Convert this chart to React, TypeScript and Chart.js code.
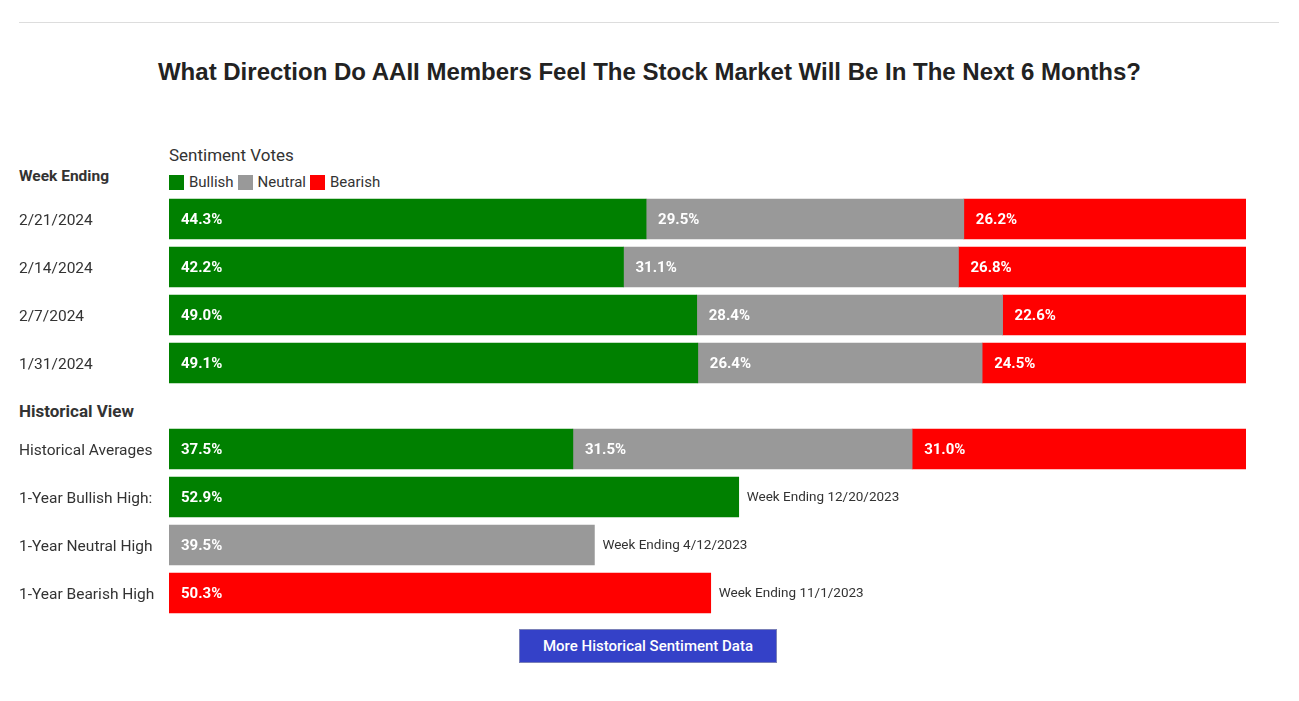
import React, { useEffect, useRef } from "react";
import { Chart, registerables } from "chart.js";

Chart.register(...registerables);

const weekLabels = ["2/21/2024", "2/14/2024", "2/7/2024", "1/31/2024"];
const weekBullish = [44.3, 42.2, 49.0, 49.1];
const weekNeutral = [29.5, 31.1, 28.4, 26.4];
const weekBearish = [26.2, 26.8, 22.6, 24.5];

const histLabels = ["Historical Averages", "1-Year Bullish High:", "1-Year Neutral High", "1-Year Bearish High"];
const histBullish = [37.5, 52.9, null, null];
const histNeutral = [31.5, null, 39.5, null];
const histBearish = [31.0, null, null, 50.3];
const histNotes = ["", "Week Ending 12/20/2023", "Week Ending 4/12/2023", "Week Ending 11/1/2023"];

const seriesNames = ["Bullish", "Neutral", "Bearish"];
const seriesColors = ["#008000", "#999999", "#ff0000"];

const FONT = "Roboto, 'Noto Sans', sans-serif";

function makeLabelPlugin(notes: string[] | null) {
  return {
    id: "valueLabels",
    afterDatasetsDraw(chart: any) {
      const ctx = chart.ctx;
      ctx.save();
      ctx.textBaseline = "middle";
      ctx.textAlign = "left";
      const ends: number[] = [];
      chart.data.datasets.forEach((ds: any, di: number) => {
        const meta = chart.getDatasetMeta(di);
        meta.data.forEach((el: any, i: number) => {
          const v = ds.data[i];
          if (v === null || v === undefined) return;
          const p = el.getProps(["x", "y", "base"], true);
          ctx.fillStyle = "#ffffff";
          ctx.font = `bold 15px ${FONT}`;
          ctx.fillText(`${Number(v).toFixed(1)}%`, Math.min(p.x, p.base) + 12, p.y + 1.5);
          ends[i] = Math.max(ends[i] ?? -Infinity, Math.max(p.x, p.base));
        });
      });
      if (notes) {
        const meta0 = chart.getDatasetMeta(0);
        notes.forEach((n, i) => {
          if (!n) return;
          const y = meta0.data[i].getProps(["y"], true).y;
          ctx.fillStyle = "#333333";
          ctx.font = `13.5px ${FONT}`;
          ctx.fillText(n, ends[i] + 8, y + 1);
        });
      }
      ctx.restore();
    },
  };
}

function BarChart({ labels, series, notes }: { labels: string[]; series: (number | null)[][]; notes: string[] | null }) {
  const ref = useRef<HTMLCanvasElement>(null);
  useEffect(() => {
    if (!ref.current) return;
    const chart = new Chart(ref.current, {
      type: "bar",
      data: {
        labels,
        datasets: series.map((d, i) => ({
          label: seriesNames[i],
          data: d,
          backgroundColor: seriesColors[i],
          borderWidth: 0,
          barThickness: 40,
        })),
      },
      options: {
        indexAxis: "y",
        responsive: false,
        animation: false,
        maintainAspectRatio: false,
        layout: { padding: 0 },
        plugins: { legend: { display: false }, tooltip: { enabled: false }, title: { display: false } },
        scales: {
          x: { stacked: true, min: 0, max: 100, display: false },
          y: {
            stacked: true,
            grid: { display: false },
            border: { display: false },
            ticks: { crossAlign: "far", color: "#333333", font: { family: FONT, size: 15.5 }, padding: 0, labelOffset: 2 },
            afterFit: (scale: any) => {
              scale.width = 150;
              scale.paddingTop = 0;
              scale.paddingBottom = 0;
            },
          },
        },
      } as any,
      plugins: [makeLabelPlugin(notes)],
    });
    return () => chart.destroy();
  }, []);
  return <canvas ref={ref} width={1227} height={192} style={{ display: "block", width: 1227, height: 192 }} />;
}

export default function App() {
  const legendItems = seriesNames.map((n, i) => (
    <span key={n} style={{ display: "inline-flex", alignItems: "center", marginRight: 4 }}>
      <span style={{ display: "inline-block", width: 15, height: 15, background: seriesColors[i], marginRight: 5 }} />
      <span>{n}</span>
    </span>
  ));
  return (
    <div style={{ position: "absolute", left: 0, top: 0, width: 1299, height: 701, background: "#fff", fontFamily: FONT, color: "#333" }}>
      <div style={{ position: "absolute", left: 19, top: 22, width: 1260, height: 1, background: "#dddddd" }} />
      <div
        style={{
          position: "absolute",
          left: 0,
          top: 58,
          width: 1299,
          textAlign: "center",
          fontFamily: "'Liberation Sans', Arial, sans-serif",
          fontWeight: "bold",
          fontSize: 24,
          color: "#222",
          lineHeight: "28px",
        }}
      >
        What Direction Do AAII Members Feel The Stock Market Will Be In The Next 6 Months?
      </div>
      <div style={{ position: "absolute", left: 169, top: 145, fontSize: 17, lineHeight: "20px" }}>Sentiment Votes</div>
      <div style={{ position: "absolute", left: 169, top: 172, fontSize: 15, lineHeight: "20px", display: "flex" }}>{legendItems}</div>
      <div style={{ position: "absolute", left: 19, top: 166, fontSize: 15.5, fontWeight: "bold", lineHeight: "20px" }}>Week Ending</div>
      <div style={{ position: "absolute", left: 19, top: 401, fontSize: 17, fontWeight: "bold", lineHeight: "20px" }}>Historical View</div>
      <div style={{ position: "absolute", left: 19, top: 195 }}>
        <BarChart labels={weekLabels} series={[weekBullish, weekNeutral, weekBearish]} notes={null} />
      </div>
      <div style={{ position: "absolute", left: 19, top: 425 }}>
        <BarChart labels={histLabels} series={[histBullish, histNeutral, histBearish]} notes={histNotes} />
      </div>
      <div
        style={{
          position: "absolute",
          left: 519,
          top: 629,
          width: 258,
          height: 34,
          boxSizing: "border-box",
          background: "#3441c8",
          border: "1px solid #7a80b8",
          color: "#fff",
          fontSize: 15,
          fontWeight: 500,
          display: "flex",
          alignItems: "center",
          justifyContent: "center",
        }}
      >
        More Historical Sentiment Data
      </div>
    </div>
  );
}
